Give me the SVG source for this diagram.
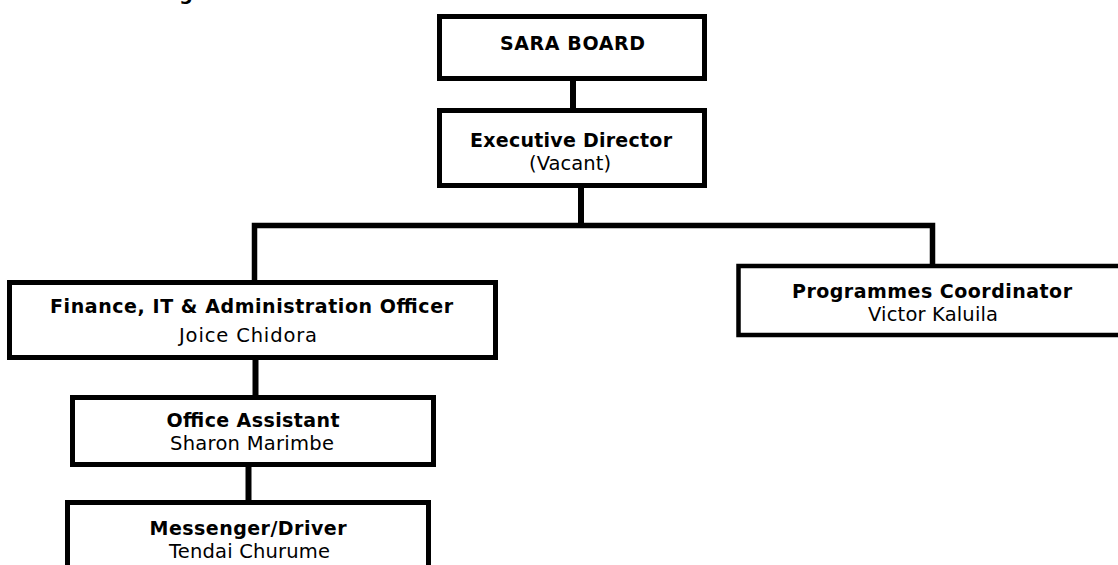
<svg xmlns="http://www.w3.org/2000/svg" width="1118" height="565" viewBox="0 0 1118 565">
  <style>
    .box { fill: #ffffff; stroke: #000000; stroke-width: 5; }
    .link { fill: none; stroke: #000000; stroke-width: 6; stroke-linejoin: miter; stroke-linecap: butt; }
    text { font-family: "DejaVu Sans", Verdana, sans-serif; font-size: 19.5px; fill: #000000; text-anchor: middle; }
    .title { font-weight: bold; font-size: 19px; }
  </style>
  <rect width="1118" height="565" fill="#ffffff"/>

  <!-- heading cut off at the top edge -->
  <text class="title" x="186" y="0">g</text>

  <!-- reporting lines -->
  <g id="connectors">
    <line class="link" x1="573" y1="80" x2="573" y2="109"/>
    <line class="link" x1="581" y1="187" x2="581" y2="226"/>
    <path class="link" style="stroke-width:5.5" d="M254.5 281 V225.5 H932.5 V265"/>
    <line class="link" x1="255.5" y1="359" x2="255.5" y2="396"/>
    <line class="link" x1="248.5" y1="466" x2="248.5" y2="501"/>
  </g>

  <g id="sara-board">
    <rect class="box" x="439.5" y="16.5" width="265" height="62"/>
    <text class="title" x="572.5" y="50" textLength="145" lengthAdjust="spacing">SARA BOARD</text>
  </g>

  <g id="executive-director">
    <rect class="box" x="439.5" y="110.5" width="265" height="75"/>
    <text class="title" x="571" y="146.5" textLength="202" lengthAdjust="spacing">Executive Director</text>
    <text x="570" y="169.5" textLength="82" lengthAdjust="spacing">(Vacant)</text>
  </g>

  <g id="finance-officer">
    <rect class="box" x="9.5" y="282.5" width="486" height="75"/>
    <text class="title" x="251.5" y="313" textLength="403" lengthAdjust="spacing">Finance, IT &amp; Administration Officer</text>
    <text x="248" y="342" textLength="138" lengthAdjust="spacing">Joice Chidora</text>
  </g>

  <g id="programmes-coordinator">
    <rect class="box" style="stroke-width:4.5" x="738.5" y="266" width="400" height="69"/>
    <text class="title" x="932" y="298" textLength="280" lengthAdjust="spacing">Programmes Coordinator</text>
    <text x="933" y="321" textLength="130" lengthAdjust="spacing">Victor Kaluila</text>
  </g>

  <g id="office-assistant">
    <rect class="box" x="72.5" y="397.5" width="361" height="67"/>
    <text class="title" x="253" y="427" textLength="173" lengthAdjust="spacing">Office Assistant</text>
    <text x="252" y="450" textLength="164" lengthAdjust="spacing">Sharon Marimbe</text>
  </g>

  <g id="messenger-driver">
    <rect class="box" x="67.5" y="502.5" width="361" height="100"/>
    <text class="title" x="248" y="535" textLength="197" lengthAdjust="spacing">Messenger/Driver</text>
    <text x="249.5" y="558" textLength="161" lengthAdjust="spacing">Tendai Churume</text>
  </g>
</svg>
